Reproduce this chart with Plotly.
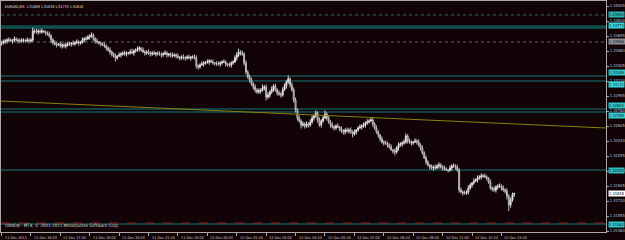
import plotly.graph_objects as go

# ---------------- data ----------------
SYMBOL = "EURUSD,M5"
FIRST_OPEN = 1.33580

CLOSE = [
 1.33574,1.33586,1.33598,1.33609,1.33609,1.33598,1.33609,1.33621,1.33609,1.33598,
 1.33598,1.33609,1.33609,1.33598,1.33609,1.33598,1.33609,1.33714,1.33714,1.33702,
 1.33714,1.33702,1.33714,1.33702,1.33691,1.33679,1.33656,1.33609,1.33574,1.33563,
 1.33551,1.33563,1.33539,1.33551,1.33539,1.33551,1.33563,1.33563,1.33574,1.33563,
 1.33574,1.33586,1.33574,1.33586,1.33609,1.33621,1.33621,1.33644,1.33656,1.33667,
 1.33621,1.33598,1.33586,1.33574,1.33563,1.33551,1.33539,1.33516,1.33492,1.33469,
 1.33446,1.33422,1.33399,1.33422,1.33434,1.33446,1.33457,1.33446,1.33457,1.33457,
 1.33469,1.33457,1.33481,1.33492,1.33504,1.33516,1.33492,1.33469,1.33457,1.33469,
 1.33457,1.33446,1.33457,1.33446,1.33457,1.33446,1.33446,1.33434,1.33446,1.33457,
 1.33434,1.33446,1.33434,1.33422,1.33434,1.33422,1.33411,1.33399,1.33411,1.33399,
 1.33399,1.33411,1.33399,1.33411,1.33411,1.33399,1.33306,1.33294,1.33317,1.33329,
 1.33341,1.33352,1.33352,1.33364,1.33352,1.33341,1.33341,1.33329,1.33329,1.33341,
 1.33352,1.33352,1.33329,1.33317,1.33317,1.33341,1.33352,1.33399,1.33434,1.33469,
 1.33457,1.33446,1.33341,1.33236,1.33177,1.33142,1.33096,1.33061,1.33026,1.33002,
 1.33014,1.33026,1.33049,1.33061,1.32944,1.32967,1.33002,1.33037,1.33072,1.33026,
 1.32991,1.32979,1.32967,1.33026,1.33072,1.33119,1.33154,1.33084,1.33026,1.32909,
 1.32792,1.32699,1.32664,1.32617,1.32629,1.32606,1.32629,1.32617,1.32653,1.32699,
 1.32722,1.32757,1.32676,1.32617,1.32664,1.32699,1.32746,1.32699,1.32653,1.32617,
 1.32594,1.32582,1.32606,1.32594,1.32571,1.32547,1.32536,1.32559,1.32547,1.32559,
 1.32536,1.32512,1.32536,1.32559,1.32582,1.32594,1.32606,1.32617,1.32641,1.32653,
 1.32664,1.32676,1.32629,1.32582,1.32536,1.32501,1.32454,1.32419,1.32407,1.32407,
 1.32384,1.32361,1.32326,1.32314,1.32302,1.32349,1.32384,1.32396,1.32407,1.32419,
 1.32489,1.32431,1.32419,1.32407,1.32419,1.32431,1.32419,1.32384,1.32349,1.32291,
 1.32232,1.32186,1.32151,1.32127,1.32116,1.32127,1.32116,1.32139,1.32151,1.32127,
 1.32116,1.32104,1.32092,1.32092,1.32116,1.32139,1.32139,1.32127,1.32092,1.31859,
 1.31836,1.31824,1.31824,1.31836,1.31882,1.31917,1.31941,1.31964,1.31976,1.31999,
 1.32011,1.32022,1.32022,1.32011,1.31999,1.31952,1.31882,1.31871,1.31859,1.31894,
 1.31906,1.31906,1.31882,1.31859,1.31847,1.31789,1.31683,1.31742,1.31809,1.31818,
]

# wick extensions above / below the candle body, in pips
UP = [
 2,3,2,2,3,2,1,3,2,2,3,2,2,1,3,2,2,4,2,3,
 2,2,3,1,2,2,3,2,2,3,2,1,3,2,2,3,2,2,1,3,
 2,3,2,1,3,2,3,2,2,3,2,2,3,1,2,2,3,2,2,3,
 2,2,3,1,3,2,2,3,2,1,3,4,2,2,3,2,1,3,2,2,
 3,2,2,3,1,2,3,2,2,3,2,1,2,3,2,2,3,1,2,3,
 2,2,3,1,2,3,3,2,2,3,2,1,3,2,2,3,1,2,3,2,
 2,3,2,1,3,2,2,3,3,4,2,3,2,3,2,3,3,2,3,2,
 3,2,4,2,3,3,2,3,2,3,2,3,2,3,3,2,4,2,3,3,
 3,2,3,2,3,2,3,2,3,3,2,3,2,3,2,3,4,2,3,2,
 3,2,2,3,1,3,2,2,3,2,3,2,3,1,2,3,2,3,2,3,
 2,3,3,2,3,2,1,3,2,3,2,2,3,1,3,2,3,2,2,3,
 3,2,3,2,1,3,2,3,2,3,2,3,2,1,3,2,3,2,3,2,
 2,3,2,1,3,2,3,2,3,2,3,2,3,2,3,2,1,3,2,3,
 2,3,2,3,2,1,3,2,3,2,2,3,2,3,2,3,2,3,2,1,
]
DN = [
 3,2,2,3,2,1,3,2,2,3,2,2,3,2,1,3,2,2,3,2,
 3,2,2,1,3,2,2,3,2,2,3,1,2,3,2,3,2,2,3,2,
 2,1,3,2,2,3,2,1,3,2,2,3,2,2,3,1,2,3,2,3,
 3,2,4,2,1,3,2,2,3,2,2,1,3,2,2,3,2,1,3,2,
 2,3,2,1,3,2,2,3,2,1,3,2,3,2,1,3,2,3,2,2,
 3,2,1,3,2,2,3,3,2,1,3,2,2,3,1,2,3,2,2,3,
 2,1,3,2,2,3,2,1,3,2,3,2,3,3,2,3,2,3,3,2,
 2,3,2,3,4,2,3,2,3,2,3,2,3,2,1,3,2,3,2,3,
 3,3,2,4,2,3,2,3,2,2,3,2,3,2,3,2,1,3,2,3,
 2,3,2,1,3,2,3,3,2,3,2,4,2,3,2,1,3,2,3,2,
 2,1,3,2,2,3,3,2,3,2,3,2,1,3,4,2,3,2,3,2,
 2,3,2,3,2,1,3,2,3,2,1,3,2,3,2,3,2,1,3,2,
 3,2,1,3,2,3,2,3,2,3,2,3,2,2,3,2,3,2,1,3,
 2,3,2,1,3,2,2,3,2,3,3,2,3,2,3,4,7,3,2,3,
]

TIME_TICK_BARS = [0, 16, 32, 48, 64, 80, 96, 112, 128, 144, 160, 176, 192, 208, 224, 240, 256, 272]
TIME_TICK_TEXT = ["11 Dec 2011", "11 Dec 16:20", "11 Dec 17:40", "11 Dec 19:00", "11 Dec 20:20",
                  "11 Dec 21:40", "11 Dec 23:00", "12 Dec 00:20", "12 Dec 01:40", "12 Dec 03:00",
                  "12 Dec 04:20", "12 Dec 05:40", "12 Dec 07:00", "12 Dec 08:20", "12 Dec 09:40",
                  "12 Dec 11:00", "12 Dec 12:20", "12 Dec 13:40"]

PRICE_TICKS = [1.31380, 1.31555, 1.31730, 1.31905, 1.32080, 1.32255, 1.32430, 1.32605,
               1.32780, 1.32955, 1.33130, 1.33305, 1.33480, 1.33655, 1.33830, 1.34005]

# horizontal levels drawn on the chart
SOLID_LEVELS = [1.33131, 1.33189, 1.32769, 1.32804, 1.32092, 1.31462]
DOTTED_LEVELS_TEAL = [1.33901]
DOTTED_LEVELS_GRAY = [1.33586]
THICK_LEVEL = 1.33768
THICK_LEVEL_EDGE = 1.33749
RED_DASH_LEVEL = 1.31474

# right-side price labels for the levels (price, box colour, vertical anchor)
LEVEL_LABELS = [
    (1.33901, "#29b3b3", "middle"), (1.33773, "#3ad8d8", "middle"),
    (1.33586, "#8e8e8e", "middle"), (1.33189, "#2fc6c6", "bottom"),
    (1.33131, "#3ad8d8", "top"), (1.32804, "#2fc6c6", "bottom"),
    (1.32769, "#36cfcf", "top"), (1.32092, "#2fbcbc", "middle"),
    (1.31462, "#30c8c8", "middle"),
]

# trend line (bar index, price)
TREND_BARS = [-0.3, 329.0]
TREND_PRICES = [1.32897, 1.32582]

X_RANGE = [-0.27, 328.9]
Y_RANGE = [1.31369, 1.34064]

# --------------- build ----------------
PIP = 0.0001
n = len(CLOSE)
bars = list(range(n))
OPEN = [FIRST_OPEN] + CLOSE[:-1]
HIGH = [max(o, c) + u * PIP for o, c, u in zip(OPEN, CLOSE, UP)]
LOW = [min(o, c) - d * PIP for o, c, d in zip(OPEN, CLOSE, DN)]

BG = "#120307"
FONT = "Liberation Sans Narrow, DejaVu Sans Condensed, Arial Narrow, Liberation Sans, sans-serif"
AX = "#a8a8a8"

fig = go.Figure()
fig.add_trace(go.Candlestick(
    x=bars, open=OPEN, high=HIGH, low=LOW, close=CLOSE,
    increasing=dict(line=dict(color="#e0e0e0", width=1), fillcolor="#ffffff"),
    decreasing=dict(line=dict(color="#c0c0c0", width=1), fillcolor="#3a3a3a"),
    whiskerwidth=0, hoverinfo="skip",
))
fig.add_trace(go.Scatter(x=TREND_BARS, y=TREND_PRICES, mode="lines",
                         line=dict(color="#85850a", width=1), hoverinfo="skip"))

shapes = []
def hline(y, color, width=1, dash="solid"):
    shapes.append(dict(type="line", xref="paper", x0=0, x1=1, yref="y", y0=y, y1=y,
                       line=dict(color=color, width=width, dash=dash), layer="below"))

hline(THICK_LEVEL, "#0b4f4f", 2)
hline(THICK_LEVEL_EDGE, "#178585", 1)
for lv in SOLID_LEVELS:
    hline(lv, "#157a7a", 1)
for lv in DOTTED_LEVELS_TEAL:
    hline(lv, "#1a7070", 1, "dot")
for lv in DOTTED_LEVELS_GRAY:
    hline(lv, "#5a6a6a", 1, "dot")
hline(RED_DASH_LEVEL, "#9a1e1e", 1, "dash")

annotations = []
for bar, txt in zip(TIME_TICK_BARS, TIME_TICK_TEXT):
    annotations.append(dict(x=bar, xref="x", y=0, yref="paper", text=txt, showarrow=False,
                            xanchor="left", yanchor="top", xshift=1, yshift=-1,
                            font=dict(family=FONT, size=3.8, color="#c8c8c8")))
for price, col, anc in LEVEL_LABELS:
    annotations.append(dict(x=1, xref="paper", y=price, yref="y", text=f"{price:.5f}",
                            showarrow=False, xanchor="left", yanchor=anc, xshift=2,
                            bgcolor=col, borderpad=0,
                            font=dict(family=FONT, size=4, color="#0a2020")))
annotations.append(dict(x=1, xref="paper", y=CLOSE[-1], yref="y", text=f"{CLOSE[-1]:.5f}",
                        showarrow=False, xanchor="left", yanchor="middle", xshift=2,
                        bgcolor="#ffffff", borderpad=0,
                        font=dict(family=FONT, size=4, color="#000000")))
header = f"{SYMBOL}  {OPEN[-1]:.5f} {HIGH[-1]:.5f} {LOW[-1]:.5f} {CLOSE[-1]:.5f}"
annotations.append(dict(x=0, xref="paper", y=1, yref="paper", text=header, showarrow=False,
                        xanchor="left", yanchor="top", xshift=2, yshift=-2,
                        font=dict(family=FONT, size=3.6, color="#e8e8e8")))
annotations.append(dict(x=0, xref="paper", y=0, yref="paper",
                        text="OANDA - MT4, © 2001-2011 MetaQuotes Software Corp.",
                        showarrow=False, xanchor="left", yanchor="bottom", xshift=2, yshift=2,
                        font=dict(family=FONT, size=4.5, color="#d8d8d8")))

fig.update_layout(
    width=625, height=240, margin=dict(l=0, r=18, t=1, b=8),
    paper_bgcolor=BG, plot_bgcolor=BG, showlegend=False,
    shapes=shapes, annotations=annotations,
    xaxis=dict(range=X_RANGE, showgrid=False, zeroline=False, showline=True, mirror=True,
               linecolor=AX, linewidth=1, ticks="outside", ticklen=3, tickcolor=AX,
               tickvals=TIME_TICK_BARS, showticklabels=False, rangeslider=dict(visible=False),
               fixedrange=True),
    yaxis=dict(range=Y_RANGE, side="right", showgrid=False, zeroline=False, showline=True,
               mirror=True, linecolor=AX, linewidth=1, ticks="outside", ticklen=2,
               tickcolor=AX, tickvals=PRICE_TICKS, ticktext=[f"{p:.5f}" for p in PRICE_TICKS],
               tickfont=dict(family=FONT, size=4, color="#c8c8c8"), fixedrange=True),
)

fig.write_html("out.html")
